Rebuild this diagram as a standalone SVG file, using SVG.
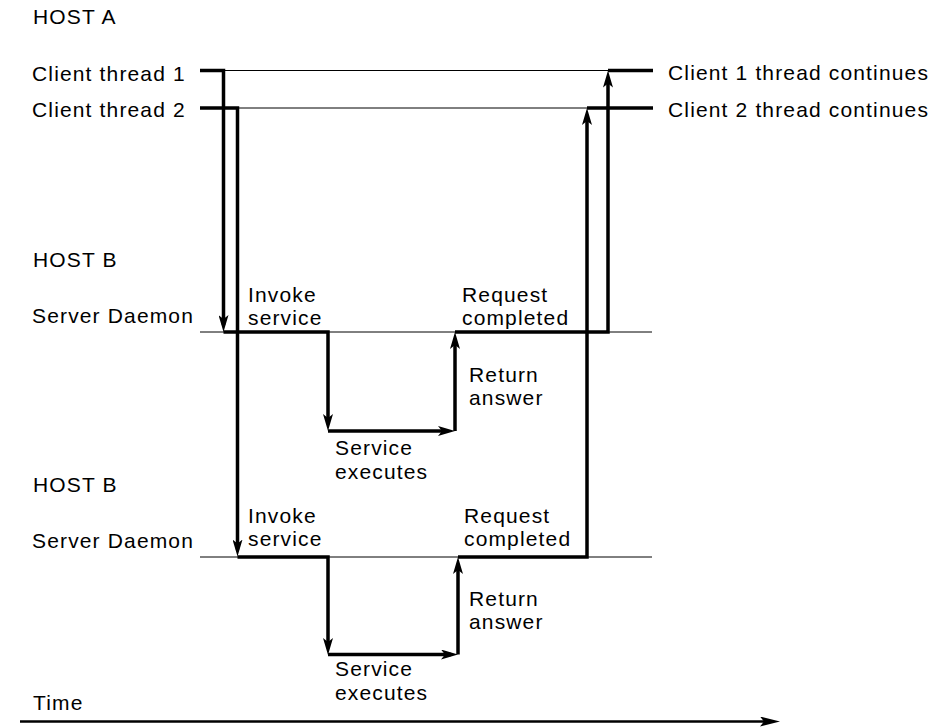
<svg xmlns="http://www.w3.org/2000/svg" width="948" height="727" viewBox="0 0 948 727">
<style>
text { font-family: "Liberation Sans", Arial, sans-serif; font-size: 21px; letter-spacing: 1.15px; fill: #000; }
.thin { stroke: #000; stroke-width: 1; fill: none; }
.flow { stroke: #000; stroke-width: 3.5; fill: none; stroke-linejoin: miter; }
.arr { marker-end: url(#ah); }
.axis { stroke: #000; stroke-width: 2.5; fill: none; marker-end: url(#ahT); }
</style>
<defs>
<marker id="ah" markerUnits="userSpaceOnUse" viewBox="0 0 17 10" refX="10" refY="5" markerWidth="17" markerHeight="10" orient="auto">
<path d="M0,0 L17,5 L0,10 L4,5 Z" fill="#000"/>
</marker>
<marker id="ahT" markerUnits="userSpaceOnUse" viewBox="0 0 20 10" refX="12" refY="5" markerWidth="20" markerHeight="10" orient="auto">
<path d="M0,0 L20,5 L0,10 L4,5 Z" fill="#000"/>
</marker>
</defs>

<g id="labels">
<text x="33" y="24">HOST A</text>
<text x="32" y="81">Client thread 1</text>
<text x="32" y="117">Client thread 2</text>
<text x="668" y="80">Client 1 thread continues</text>
<text x="668" y="117">Client 2 thread continues</text>
<text x="33" y="267">HOST B</text>
<text x="32" y="323">Server Daemon</text>
<text x="33" y="492">HOST B</text>
<text x="32" y="548">Server Daemon</text>
<text x="33" y="710">Time</text>
</g>

<g id="timelines">
<path class="thin" d="M225,70.5 H608"/>
<path class="thin" d="M238,108 H587"/>
<path class="thin" d="M200,332 H652"/>
<path class="thin" d="M200,557 H652"/>
</g>

<g id="server1">
<text x="248" y="302">Invoke</text>
<text x="248" y="325">service</text>
<text x="462" y="302">Request</text>
<text x="462" y="325">completed</text>
<text x="469" y="382">Return</text>
<text x="469" y="405">answer</text>
<text x="335" y="455">Service</text>
<text x="335" y="479">executes</text>
</g>

<g id="server2">
<text x="248" y="523">Invoke</text>
<text x="248" y="546">service</text>
<text x="464" y="523">Request</text>
<text x="464" y="546">completed</text>
<text x="469" y="606">Return</text>
<text x="469" y="629">answer</text>
<text x="335" y="676">Service</text>
<text x="335" y="700">executes</text>
</g>

<g id="connectors">
<path class="flow arr" d="M200,70.5 H223.5 V325"/>
<path class="flow arr" d="M223.5,332 H328 V424"/>
<path class="flow arr" d="M328,431 H448"/>
<path class="flow arr" d="M455,431 V339"/>
<path class="flow arr" d="M455,332 H608 V77.5"/>
<path class="flow" d="M608,70.5 H653"/>

<path class="flow arr" d="M200,108 H237.5 V549.5"/>
<path class="flow arr" d="M237.5,557 H328 V648"/>
<path class="flow arr" d="M328,654.5 H451"/>
<path class="flow arr" d="M458,654.5 V564"/>
<path class="flow arr" d="M458,557 H587 V115"/>
<path class="flow" d="M587,108 H653"/>

<path class="axis" d="M20,721.5 H772"/>
</g>
</svg>
